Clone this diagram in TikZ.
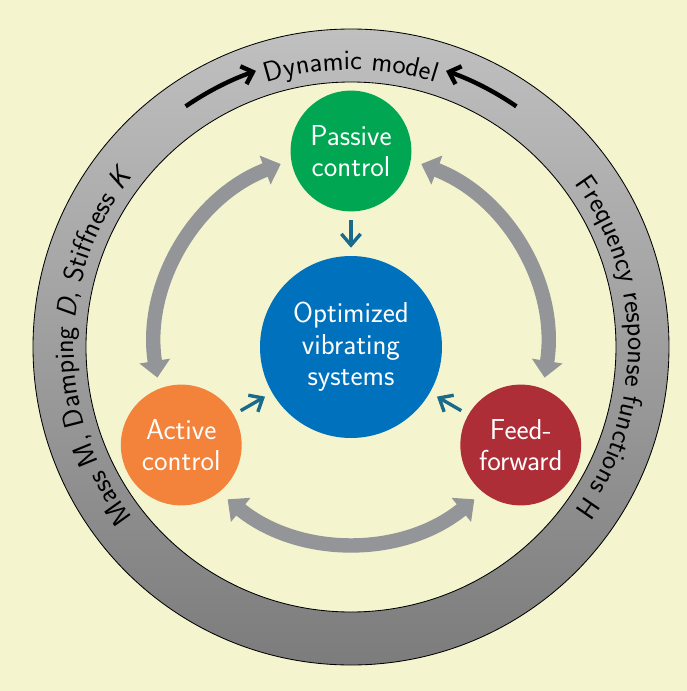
\documentclass[tikz,border=0pt]{standalone}
\usepackage{fontspec}
\usepackage{xcolor}
\usepackage{tikz}
\usetikzlibrary{arrows.meta,decorations.text}
\definecolor{fond}{RGB}{244,245,206}
\definecolor{ringtop}{RGB}{192,192,192}
\definecolor{ringbot}{RGB}{124,124,124}
\definecolor{passive}{RGB}{0,166,81}
\definecolor{active}{RGB}{243,130,58}
\definecolor{feedfwd}{RGB}{174,46,56}
\definecolor{sysblue}{RGB}{0,113,188}
\definecolor{arcgray}{RGB}{147,149,152}
\definecolor{link}{RGB}{26,106,140}

\begin{document}
\begin{tikzpicture}[
    execute at begin picture={\sffamily\fontsize{20}{23}\selectfont},
    ctrlnode/.style={circle,minimum size=3.02cm,inner sep=0pt,align=center,
      text=white,font=\sffamily\fontsize{20.5}{22.5}\selectfont},
    bigarc/.style={arcgray,line width=0.36cm,
      arrows={Triangle[length=0.42cm,width=0.75cm]-Triangle[length=0.42cm,width=0.75cm]}},
    linkarrow/.style={link,line width=0.085cm,
      arrows={-Straight Barb[length=0.28cm,width=0.48cm]},shorten <=0.2cm,shorten >=0.2cm},
    modelarrow/.style={black,line width=0.11cm,
      arrows={-Straight Barb[length=0.25cm,width=0.47cm]}},
    ringtext/.style={decorate,decoration={text along path,text align=center,text={#1}}}
  ]
    % 1 px = 0.025 cm ; centre of the ring at the origin
    \useasboundingbox (-8.775,-8.6) rectangle (8.4,8.675);
    \fill[fond] (-8.775,-8.6) rectangle (8.4,8.675);
    % ring
    \shade[top color=ringtop,bottom color=ringbot,even odd rule]
      (0,0) circle (7.95) (0,0) circle (6.625);
    \draw[line width=0.6pt] (0,0) circle (7.95) (0,0) circle (6.625);
    \path[ringtext={Dynamic model}] (180:6.93) arc[start angle=180,end angle=0,radius=6.93];
    \path[ringtext={Mass M, Damping |\slshape|D||, Stiffness |\slshape|K}]
      (270:6.93) arc[start angle=270,end angle=90,radius=6.93];
    \path[ringtext={Frequency response functions H}]
      (90:6.93) arc[start angle=90,end angle=-90,radius=6.93];
    \coordinate (ml) at (124.5:7.3);
    \coordinate (mr) at (55.5:7.3);
    \draw[modelarrow] (ml) arc[start angle=124.5,end angle=109,radius=7.3];
    \draw[modelarrow] (mr) arc[start angle=55.5,end angle=71,radius=7.3];
    % nodes
    \node[ctrlnode,fill=passive] (pas) at (90:4.9) {Passive\\control};
    \node[ctrlnode,fill=active] (act) at (210:4.9) {Active\\control};
    \node[ctrlnode,fill=feedfwd] (ff) at (330:4.9) {Feed-\\forward};
    \node[ctrlnode,fill=sysblue,minimum size=4.55cm] (sys) at (0,0) {Optimized\\vibrating\\systems};
    \draw[linkarrow] (pas) -- (sys);
    \draw[linkarrow] (act) -- (sys);
    \draw[linkarrow] (ff) -- (sys);
    % grey arcs between the controls
    \coordinate (a1) at (111:4.9);
    \coordinate (a2) at (231:4.9);
    \coordinate (a3) at (351:4.9);
    \draw[bigarc] (a1) arc[start angle=111,end angle=189,radius=4.9];
    \draw[bigarc] (a2) arc[start angle=231,end angle=309,radius=4.9];
    \draw[bigarc] (a3) arc[start angle=351,end angle=429,radius=4.9];
  \end{tikzpicture}
\end{document}
